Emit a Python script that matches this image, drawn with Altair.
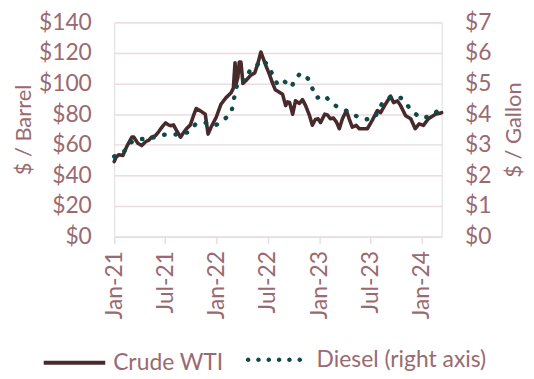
import altair as alt
import pandas as pd

# ---------------- data ----------------
series_names = ["Crude WTI", "Diesel (right axis)"]

crude_dates = [
    "2021-01-01", "2021-01-08", "2021-01-18", "2021-02-01", "2021-02-15", "2021-03-05",
    "2021-03-12", "2021-03-26", "2021-04-09", "2021-04-23", "2021-05-04", "2021-05-14",
    "2021-05-28", "2021-06-08", "2021-06-22", "2021-07-03", "2021-07-13", "2021-07-20",
    "2021-07-31", "2021-08-12", "2021-08-25", "2021-09-05", "2021-09-15", "2021-09-29",
    "2021-10-10", "2021-10-20", "2021-11-05", "2021-11-21", "2021-12-01", "2021-12-12",
    "2021-12-30", "2022-01-16", "2022-02-03", "2022-02-21", "2022-03-01", "2022-03-07",
    "2022-03-11", "2022-03-17", "2022-03-22", "2022-03-28", "2022-04-04", "2022-04-15",
    "2022-05-02", "2022-05-16", "2022-05-27", "2022-06-07", "2022-06-24", "2022-07-08",
    "2022-07-19", "2022-07-28", "2022-08-06", "2022-08-23", "2022-09-03", "2022-09-10",
    "2022-09-17", "2022-09-28", "2022-10-08", "2022-10-22", "2022-11-02", "2022-11-13",
    "2022-11-27", "2022-12-07", "2022-12-18", "2022-12-27", "2023-01-05", "2023-01-20",
    "2023-01-30", "2023-02-09", "2023-02-20", "2023-03-03", "2023-03-13", "2023-03-24",
    "2023-04-07", "2023-04-17", "2023-04-28", "2023-05-12", "2023-05-23", "2023-06-10",
    "2023-06-21", "2023-07-08", "2023-07-26", "2023-08-07", "2023-08-24", "2023-09-11",
    "2023-09-22", "2023-10-06", "2023-10-17", "2023-11-04", "2023-11-22", "2023-12-08",
    "2023-12-22", "2024-01-06", "2024-01-24", "2024-02-18", "2024-03-11",
]
crude_values = [
    49, 52, 53.5, 53, 59, 65,
    65, 61, 59.5, 62, 63, 65,
    66, 68.5, 72, 74.3, 73, 72.5,
    73, 69, 65, 68, 70.5, 73,
    79, 83.7, 82, 80, 67, 71.6,
    78, 86.5, 90.8, 94, 97, 113.6,
    100, 104, 114, 114, 100, 102,
    105.5, 107, 113, 120.6, 112, 105.7,
    100, 96, 95, 93, 85.6, 88,
    87.6, 80, 88.7, 87, 89.5, 85.6,
    79, 72.8, 76.6, 77, 74.5, 80,
    79.5, 77, 77.5, 74.8, 70.5, 77,
    82.3, 77, 71.6, 72.7, 70.5, 70.5,
    70.5, 76, 82.3, 81, 86.5, 91.8,
    87.6, 88.7, 85.6, 79, 77, 70.5,
    73.7, 72.7, 77, 80, 81,
]

diesel_dates = [
    "2021-01-01", "2021-02-05", "2021-03-02", "2021-03-27", "2021-05-05", "2021-06-05",
    "2021-07-11", "2021-08-22", "2021-09-23", "2021-10-18", "2021-11-22", "2021-12-27",
    "2022-01-28", "2022-02-22", "2022-03-01", "2022-03-08", "2022-03-18", "2022-04-15",
    "2022-04-29", "2022-05-21", "2022-06-11", "2022-07-05", "2022-07-19", "2022-08-06",
    "2022-08-27", "2022-09-24", "2022-10-05", "2022-10-26", "2022-11-23", "2022-12-07",
    "2022-12-22", "2023-01-19", "2023-02-12", "2023-03-13", "2023-04-17", "2023-05-19",
    "2023-06-16", "2023-07-18", "2023-08-01", "2023-08-22", "2023-09-19", "2023-10-18",
    "2023-11-08", "2023-12-02", "2023-12-27", "2024-01-28", "2024-02-22", "2024-03-11",
]
diesel_values = [
    2.62, 2.78, 3.08, 3.19, 3.19, 3.29,
    3.35, 3.33, 3.42, 3.68, 3.72, 3.63,
    3.83, 4.06, 4.40, 4.72, 5.10, 5.12,
    5.44, 5.57, 5.78, 5.58, 5.26, 4.96,
    5.09, 4.88, 5.13, 5.34, 5.15, 4.84,
    4.53, 4.62, 4.38, 4.19, 4.08, 3.90,
    3.83, 3.89, 4.20, 4.46, 4.60, 4.53,
    4.31, 4.06, 3.88, 3.92, 4.08, 4.12,
]

left_ticks = [0, 20, 40, 60, 80, 100, 120, 140]
right_ticks = [0, 1, 2, 3, 4, 5, 6, 7]
x_tick_months = [(2021, 1), (2021, 7), (2022, 1), (2022, 7), (2023, 1), (2023, 7), (2024, 1)]

# ---------------- styling ----------------
FONT = "Lato"
FS = 23
TFS = 22
TEXT = "#9a6a70"
GRID = "#eadcdf"
CRUDE = "#48292c"
DIESEL = "#0e4a46"

crude_df = pd.DataFrame({"date": crude_dates, "value": crude_values, "series": series_names[0]})
diesel_df = pd.DataFrame({"date": diesel_dates, "value": diesel_values, "series": series_names[1]})

# legend glyph for the dotted series: six small filled discs in the unit square
_r = 0.0767
DOTS_PATH = "".join(
    f"M{c - _r:.4f},0a{_r},{_r} 0 1,0 {2 * _r:.4f},0a{_r},{_r} 0 1,0 {-2 * _r:.4f},0Z"
    for c in [-0.867, -0.52, -0.173, 0.173, 0.52, 0.867]
)

common_legend = dict(
    title=None, orient="none", direction="horizontal", labelFont=FONT, labelFontSize=FS,
    labelColor=TEXT, padding=0, labelLimit=400,
)

x = alt.X(
    "date:T",
    title=None,
    scale=alt.Scale(type="utc", domain=[alt.DateTime(year=2021, month=1, date=1, utc=True),
                                        alt.DateTime(year=2024, month=3, date=11, utc=True)]),
    axis=alt.Axis(
        values=[alt.DateTime(year=y, month=m, date=1, utc=True) for y, m in x_tick_months],
        labelExpr="utcFormat(datum.value, '%b-%y')", labelAngle=270, labelAlign="right",
        labelBaseline="middle", labelPadding=7, tickSize=7, tickColor=GRID, tickWidth=1.5,
        domainColor=GRID, domainWidth=1.5, grid=False, labelFont=FONT, labelFontSize=FS,
        labelColor=TEXT,
    ),
)

crude = alt.Chart(crude_df).mark_line(strokeWidth=3.6, strokeCap="round", strokeJoin="round").encode(
    x=x,
    y=alt.Y("value:Q", scale=alt.Scale(domain=[0, 140], nice=False),
            axis=alt.Axis(orient="left", values=left_ticks, labelExpr="'$' + datum.value",
                          title="$ / Barrel", ticks=False, domain=False, labelPadding=23,
                          titlePadding=3, grid=True, gridColor=GRID, gridWidth=1.5,
                          labelFont=FONT, labelFontSize=FS, labelColor=TEXT, titleFont=FONT,
                          titleFontSize=TFS, titleFontWeight="normal", titleColor=TEXT)),
    color=alt.Color("series:N", scale=alt.Scale(domain=[series_names[0]], range=[CRUDE]),
                    legend=alt.Legend(legendX=-73, legendY=310, symbolType="stroke", symbolSize=3844,
                                      symbolStrokeWidth=4, labelOffset=6, **common_legend)),
)

diesel = alt.Chart(diesel_df).mark_line(strokeWidth=4.4, strokeCap="round", strokeJoin="round",
                                        strokeDash=[0.5, 11]).encode(
    x=x,
    y=alt.Y("value:Q", scale=alt.Scale(domain=[0, 7], nice=False),
            axis=alt.Axis(orient="right", values=right_ticks, labelExpr="'$' + datum.value",
                          title="$ / Gallon", ticks=False, domain=False, labelPadding=23,
                          titlePadding=13, titleAngle=270, titleBaseline="top", grid=False,
                          labelFont=FONT, labelFontSize=FS, labelColor=TEXT, titleFont=FONT,
                          titleFontSize=TFS, titleFontWeight="normal", titleColor=TEXT)),
    color=alt.Color("series:N", scale=alt.Scale(domain=[series_names[1]], range=[DIESEL]), legend=None),
)

# invisible points on the diesel series; they only supply the dotted legend entry
diesel_key = alt.Chart(diesel_df).mark_point(filled=True, opacity=0, shape=DOTS_PATH).encode(
    x=x,
    y=alt.Y("value:Q", scale=alt.Scale(domain=[0, 7], nice=False), axis=None),
    color=alt.Color("series:N", scale=alt.Scale(domain=[series_names[1]], range=[DIESEL]),
                    legend=alt.Legend(legendX=131, legendY=310, symbolType=DOTS_PATH, symbolSize=3600,
                                      symbolOpacity=1, symbolStrokeWidth=0, labelOffset=13,
                                      **common_legend)),
)

chart = alt.layer(crude, diesel, diesel_key).resolve_scale(
    y="independent", color="independent"
).resolve_legend(color="independent").properties(
    width=330, height=216,
    autosize=alt.AutoSizeParams(type="none"),
    padding={"left": 107, "top": 13, "right": 85, "bottom": 142},
).configure_view(stroke=None).configure(background="white")

chart.save("out.html", embed_options={"renderer": "svg", "actions": False})
